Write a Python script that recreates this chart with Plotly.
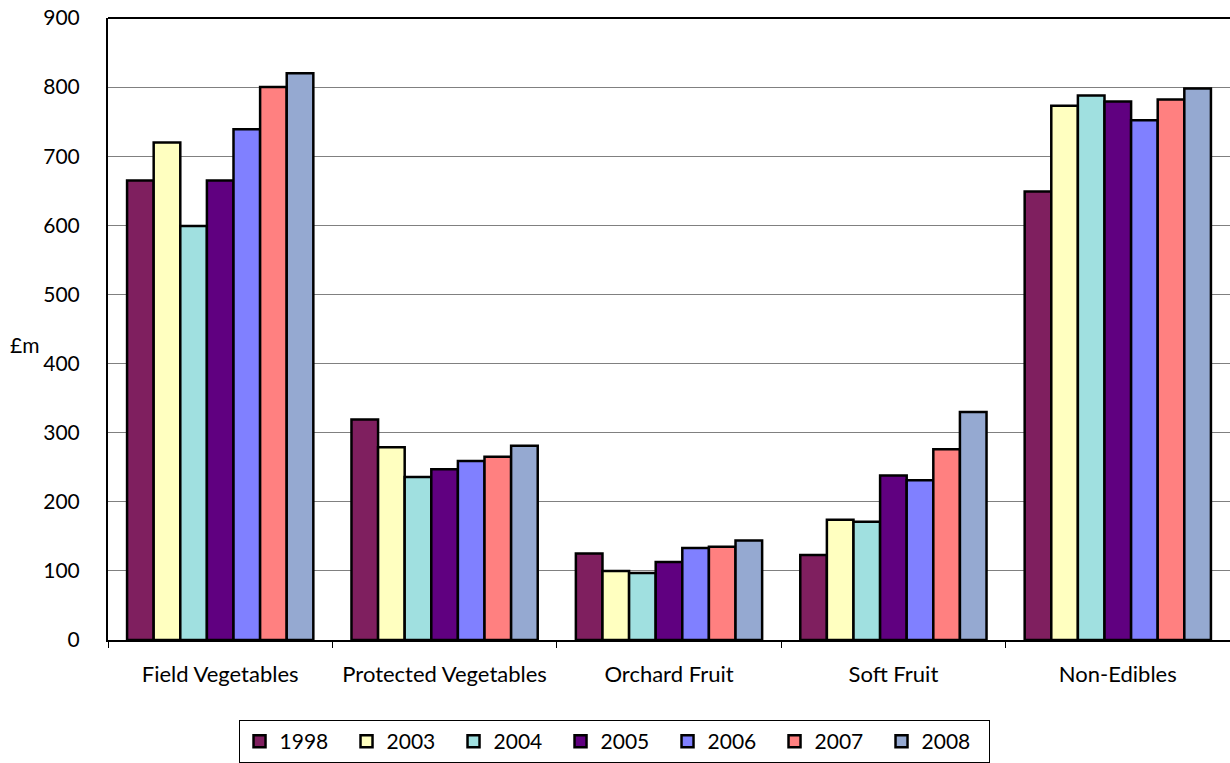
import plotly.graph_objects as go

# Horticultural output by sector, £m
categories = ["Field Vegetables", "Protected Vegetables", "Orchard Fruit", "Soft Fruit", "Non-Edibles"]
years = ["1998", "2003", "2004", "2005", "2006", "2007", "2008"]

v1998 = [665, 319, 125, 123, 649]
v2003 = [720, 279, 100, 174, 773]
v2004 = [599, 236, 97, 171, 788]
v2005 = [665, 247, 113, 238, 779]
v2006 = [739, 259, 133, 231, 752]
v2007 = [800, 265, 135, 276, 782]
v2008 = [820, 281, 144, 330, 798]

series = [v1998, v2003, v2004, v2005, v2006, v2007, v2008]
colors = ["#7F1F5F", "#FFFFC0", "#A0E0E0", "#600080", "#8080FF", "#FF8080", "#95A9D1"]

FONT = "Lato, 'Open Sans', sans-serif"
FS = 21

fig = go.Figure()
for name, vals, col in zip(years, series, colors):
    fig.add_trace(go.Bar(
        x=categories, y=vals, name=name,
        marker=dict(color=col, line=dict(color="black", width=2.5)),
    ))

fig.update_layout(
    width=1230, height=763,
    margin=dict(l=108, r=0, t=18, b=122),
    paper_bgcolor="white", plot_bgcolor="white",
    barmode="group", bargap=0.17, bargroupgap=0,
    font=dict(family=FONT, size=FS, color="black"),
    showlegend=True,
    legend=dict(
        orientation="h", x=0.451, xanchor="center", y=-0.128, yanchor="top",
        bordercolor="black", borderwidth=1, bgcolor="white",
        font=dict(family=FONT, size=FS),
        itemwidth=30, entrywidth=62, traceorder="normal",
    ),
    xaxis=dict(
        showline=True, linecolor="black", linewidth=1.5,
        ticks="outside", tickson="boundaries", ticklen=6, tickcolor="black",
        showgrid=False, tickfont=dict(size=22), ticklabelstandoff=14,
    ),
    yaxis=dict(
        range=[0, 900], dtick=100, showgrid=True, gridcolor="#808080", gridwidth=1,
        showline=True, linecolor="black", linewidth=2,
        ticks="", zeroline=False, tickfont=dict(size=FS), ticklabelstandoff=22,
    ),
    annotations=[dict(
        text="£m", xref="paper", yref="paper", x=-0.074, y=0.475,
        showarrow=False, font=dict(family=FONT, size=FS), xanchor="center",
        yanchor="middle",
    )],
    shapes=[dict(
        type="line", xref="paper", yref="paper", x0=0, x1=1, y0=1, y1=1,
        line=dict(color="black", width=2),
    )],
)

fig.write_html("out.html")
